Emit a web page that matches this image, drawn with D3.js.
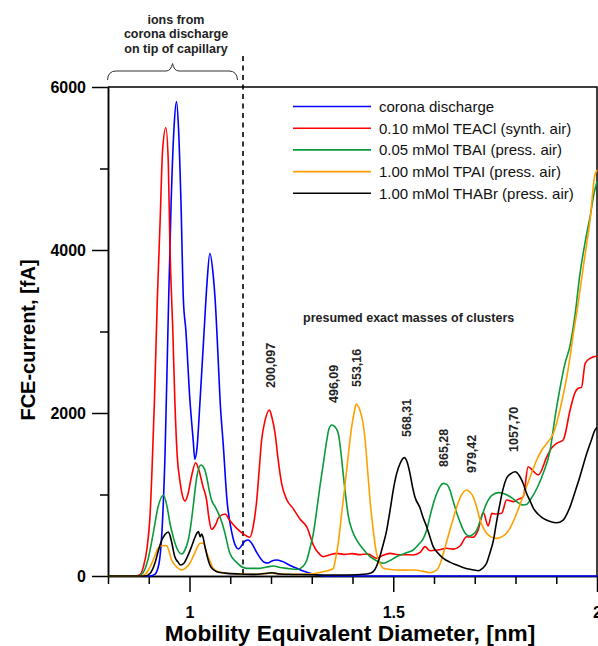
<!DOCTYPE html>
<html>
<head>
<meta charset="utf-8">
<script src="https://cdn.jsdelivr.net/npm/d3@7/dist/d3.min.js"></script>
<style>
  html, body { margin: 0; padding: 0; background: #fff; }
  svg { display: block; font-family: "Liberation Sans", Arial, sans-serif; }
</style>
</head>
<body>
<svg id="chart" width="598" height="646"></svg>
<script>
// ---------- DATA (diameter [nm], current [fA]) ----------
const seriesNames = [
  "corona discharge",
  "0.10 mMol TEACl (synth. air)",
  "0.05 mMol TBAI (press. air)",
  "1.00 mMol TPAI (press. air)",
  "1.00 mMol THABr (press. air)"
];
const seriesColors = ["#0000ff", "#ff0000", "#0a9a3c", "#ffa000", "#000000"];

const corona = [
  [0.800,0],[0.903,0],[0.915,20],[0.925,150],[0.933,600],[0.940,1500],[0.947,3000],
  [0.955,4600],[0.962,5500],[0.968,5820],[0.973,5500],[0.979,4600],[0.985,3390],
  [0.991,3018],[1.001,2160],[1.009,1670],[1.013,1432],[1.018,1550],[1.026,2160],
  [1.036,3018],[1.043,3600],[1.050,3960],[1.058,3700],[1.063,3387],[1.070,2700],
  [1.075,2160],[1.083,1600],[1.092,932],[1.104,530],[1.114,360],[1.120,331],
  [1.129,380],[1.136,430],[1.144,442],[1.153,400],[1.166,280],[1.183,170],[1.193,160],
  [1.202,185],[1.214,196],[1.227,180],[1.247,130],[1.263,94],[1.279,60],[1.296,35],
  [1.315,10],[1.333,0],[2.000,0]
];
const teacl = [
  [0.800,0],[0.866,0],[0.879,20],[0.887,115],[0.896,350],[0.903,728],[0.908,1300],
  [0.914,2160],[0.921,3387],[0.928,4368],[0.934,5227],[0.942,5500],[0.948,5067],
  [0.952,4040],[0.959,3018],[0.964,2160],[0.970,1464],[0.977,1150],[0.983,980],
  [0.989,920],[0.996,1000],[1.004,1200],[1.015,1390],[1.023,1300],[1.033,1100],
  [1.042,932],[1.048,700],[1.054,573],[1.063,620],[1.072,720],[1.087,761],[1.099,680],
  [1.116,585],[1.131,520],[1.148,475],[1.156,600],[1.165,932],[1.171,1300],[1.177,1669],
  [1.185,1900],[1.196,2037],[1.202,1950],[1.210,1751],[1.217,1450],[1.226,1137],
  [1.239,932],[1.254,830],[1.271,700],[1.288,600],[1.304,380],[1.315,290],[1.328,237],
  [1.345,260],[1.361,278],[1.382,265],[1.399,275],[1.418,262],[1.438,270],[1.459,217],
  [1.475,255],[1.492,278],[1.512,260],[1.529,262],[1.549,258],[1.566,290],[1.578,360],
  [1.590,310],[1.610,320],[1.631,340],[1.647,330],[1.664,368],[1.680,482],[1.696,475],
  [1.708,560],[1.721,777],[1.733,613],[1.742,769],[1.752,760],[1.766,769],[1.778,932],
  [1.795,912],[1.806,940],[1.819,973],[1.831,1341],[1.843,1290],[1.856,1239],
  [1.877,1464],[1.887,1560],[1.901,1628],[1.917,1669],[1.934,2037],[1.946,2250],
  [1.954,2303],[1.962,2315],[1.971,2610],[1.983,2671],[2.000,2700]
];
const tbai = [
  [0.800,0],[0.874,0],[0.886,40],[0.898,200],[0.911,524],[0.923,851],[0.936,990],
  [0.945,850],[0.952,647],[0.960,480],[0.969,340],[0.981,270],[0.989,320],[0.997,442],
  [1.004,650],[1.009,851],[1.018,1218],[1.028,1362],[1.036,1320],[1.042,1218],
  [1.048,1060],[1.054,932],[1.063,850],[1.071,769],[1.080,650],[1.087,524],[1.099,278],
  [1.116,164],[1.140,94],[1.173,94],[1.190,110],[1.206,123],[1.222,105],[1.239,94],
  [1.263,80],[1.279,120],[1.288,196],[1.296,350],[1.304,524],[1.312,800],[1.320,1096],
  [1.329,1400],[1.337,1669],[1.342,1800],[1.349,1853],[1.357,1830],[1.365,1751],
  [1.372,1500],[1.377,1260],[1.384,950],[1.390,728],[1.399,560],[1.410,442],[1.426,330],
  [1.443,237],[1.460,185],[1.476,156],[1.492,190],[1.508,237],[1.529,280],[1.549,319],
  [1.561,380],[1.574,462],[1.583,580],[1.590,728],[1.599,900],[1.607,1015],[1.615,1100],
  [1.623,1137],[1.632,1120],[1.639,1055],[1.647,920],[1.656,769],[1.664,660],[1.672,564],
  [1.687,491],[1.696,510],[1.705,564],[1.715,700],[1.729,892],[1.742,990],[1.758,1023],
  [1.772,1010],[1.787,973],[1.801,920],[1.819,871],[1.828,880],[1.836,932],[1.853,1080],
  [1.868,1260],[1.885,1546],[1.897,1950],[1.909,2300],[1.921,2600],[1.934,2830],
  [1.946,3200],[1.958,3700],[1.971,4100],[1.983,4408],[1.993,4700],[2.000,4840]
];
const tpai = [
  [0.800,0],[0.879,0],[0.891,20],[0.901,90],[0.911,196],[0.923,340],[0.932,372],
  [0.937,375],[0.944,372],[0.950,300],[0.956,196],[0.967,120],[0.981,74],[0.991,100],
  [1.001,156],[1.009,240],[1.018,340],[1.026,401],[1.034,401],[1.040,320],[1.046,237],
  [1.053,150],[1.058,94],[1.070,55],[1.091,33],[1.124,25],[1.161,22],[1.198,35],
  [1.222,25],[1.271,20],[1.308,30],[1.328,53],[1.345,75],[1.353,94],[1.358,200],
  [1.365,401],[1.373,750],[1.382,1137],[1.390,1500],[1.398,1832],[1.404,2000],
  [1.409,2110],[1.413,2090],[1.418,2037],[1.425,1900],[1.431,1669],[1.437,1300],
  [1.443,932],[1.450,600],[1.459,278],[1.467,160],[1.476,94],[1.492,80],[1.508,74],
  [1.529,72],[1.549,74],[1.571,60],[1.590,41],[1.607,74],[1.615,150],[1.623,278],
  [1.631,420],[1.639,564],[1.647,700],[1.656,851],[1.666,980],[1.680,1055],[1.688,1030],
  [1.696,973],[1.705,840],[1.713,687],[1.721,590],[1.729,524],[1.740,480],[1.754,462],
  [1.766,480],[1.778,524],[1.791,630],[1.803,769],[1.815,930],[1.827,1096],[1.840,1270],
  [1.852,1423],[1.864,1540],[1.877,1628],[1.893,1751],[1.909,2037],[1.926,2445],
  [1.934,2691],[1.942,2978],[1.951,3250],[1.958,3500],[1.971,3950],[1.983,4368],
  [1.994,4900],[2.000,4982]
];
const thabr = [
  [0.800,0],[0.891,0],[0.903,30],[0.915,156],[0.923,300],[0.932,442],[0.940,510],
  [0.948,540],[0.952,500],[0.956,420],[0.964,237],[0.972,170],[0.978,135],[0.987,160],
  [0.993,217],[1.005,360],[1.013,470],[1.018,524],[1.022,544],[1.026,482],[1.030,515],
  [1.033,480],[1.038,360],[1.044,230],[1.050,135],[1.058,80],[1.067,53],[1.087,35],
  [1.124,25],[1.161,20],[1.185,30],[1.202,40],[1.222,25],[1.271,18],[1.345,12],
  [1.386,12],[1.435,25],[1.443,35],[1.451,53],[1.459,120],[1.467,237],[1.475,380],
  [1.484,564],[1.492,800],[1.500,1055],[1.508,1250],[1.517,1383],[1.527,1452],
  [1.534,1400],[1.541,1260],[1.547,1100],[1.553,973],[1.566,831],[1.573,720],
  [1.582,605],[1.590,480],[1.598,360],[1.610,280],[1.623,217],[1.639,170],[1.656,135],
  [1.671,105],[1.688,82],[1.709,65],[1.718,90],[1.729,156],[1.737,280],[1.746,442],
  [1.753,650],[1.762,892],[1.769,1060],[1.778,1199],[1.787,1250],[1.799,1280],
  [1.811,1218],[1.820,1120],[1.827,1015],[1.836,920],[1.844,831],[1.855,760],
  [1.868,708],[1.885,670],[1.901,654],[1.917,687],[1.926,760],[1.934,851],[1.946,1030],
  [1.958,1218],[1.975,1506],[1.985,1650],[1.995,1791],[2.000,1820]
];
const seriesData = [corona, teacl, tbai, tpai, thabr];

const yMajorTicks = [0, 2000, 4000, 6000];
const yMinorTicks = [1000, 3000, 5000];
const xMajorTicks = [1, 1.5, 2];
const xMinorTicks = [0.8, 0.9, 1.1, 1.2, 1.3, 1.4, 1.6, 1.7, 1.8, 1.9];
const massLabels = ["200,097", "496,09", "553,16", "568,31", "865,28", "979,42", "1057,70"];
const braceLines = ["ions from", "corona discharge", "on tip of capillary"];

// ---------- LAYOUT ----------
const svg = d3.select("#chart");
const L = 108, R = 597, T = 87, B = 576;
const x = d3.scaleLinear().domain([0.8, 2.0]).range([L, R]);
const y = d3.scaleLinear().domain([0, 6000]).range([B, T]);

// frame (top and right)
svg.append("path")
  .attr("d", `M${L},${T}H${R}V${B}`)
  .attr("fill", "none").attr("stroke", "#000").attr("stroke-width", 1.5);

// y axis
const yMaj = svg.append("g").attr("transform", `translate(${L},0)`)
  .call(d3.axisLeft(y).tickValues(yMajorTicks).tickSize(16).tickSizeOuter(0).tickPadding(6).tickFormat(d3.format("d")));
const yMin = svg.append("g").attr("transform", `translate(${L},0)`)
  .call(d3.axisLeft(y).tickValues(yMinorTicks).tickSize(8).tickSizeOuter(0).tickFormat(""));
// x axis
const xMaj = svg.append("g").attr("transform", `translate(0,${B})`)
  .call(d3.axisBottom(x).tickValues(xMajorTicks).tickSize(16).tickSizeOuter(0).tickPadding(15).tickFormat(d => String(d)));
const xMin = svg.append("g").attr("transform", `translate(0,${B})`)
  .call(d3.axisBottom(x).tickValues(xMinorTicks).tickSize(8).tickSizeOuter(0).tickFormat(""));

[yMaj, yMin, xMaj, xMin].forEach(g => {
  g.selectAll("path.domain").attr("stroke", "#000").attr("stroke-width", 1.5);
  g.selectAll(".tick line").attr("stroke", "#000").attr("stroke-width", 1.5);
  g.selectAll("text").attr("fill", "#000")
    .style("font-family", '"Liberation Sans", Arial, sans-serif')
    .style("font-size", "16px").style("font-weight", "bold");
});

// dashed separator
svg.append("line")
  .attr("x1", x(1.1313)).attr("x2", x(1.1313))
  .attr("y1", 56).attr("y2", B)
  .attr("stroke", "#000").attr("stroke-width", 1.6).attr("stroke-dasharray", "5,4.5");

// lines
const line = d3.line().x(d => x(d[0])).y(d => y(d[1])).curve(d3.curveMonotoneX);
seriesData.forEach((data, i) => {
  svg.append("path").datum(data)
    .attr("d", line)
    .attr("fill", "none")
    .attr("stroke", seriesColors[i])
    .attr("stroke-width", 1.6)
    .attr("stroke-linejoin", "round");
});

// legend
const lg = svg.append("g");
seriesNames.forEach((name, i) => {
  const yy = 106.5 + i * 21.7;
  lg.append("line").attr("x1", 293).attr("x2", 371).attr("y1", yy).attr("y2", yy)
    .attr("stroke", seriesColors[i]).attr("stroke-width", 1.6);
  lg.append("text").attr("x", 379).attr("y", yy + 5.3)
    .style("font-size", "15px").attr("fill", "#111").text(name);
});

// axis titles
svg.append("text")
  .attr("x", 350).attr("y", 641)
  .attr("text-anchor", "middle")
  .style("font-size", "22.7px").style("font-weight", "bold")
  .text("Mobility Equivalent Diameter, [nm]");
svg.append("text")
  .attr("transform", "translate(35,340) rotate(-90)")
  .attr("text-anchor", "middle")
  .style("font-size", "20px").style("font-weight", "bold")
  .text("FCE-current, [fA]");

// brace annotation
svg.append("path")
  .attr("d", "M107.5,80 Q108,71 116,71 L166,71 Q171,71 172.5,63.5 Q174,71 179,71 L229,71 Q237,71 237.5,80")
  .attr("fill", "none").attr("stroke", "#333").attr("stroke-width", 1);
braceLines.forEach((t, i) => {
  svg.append("text").attr("x", 176).attr("y", 23.5 + i * 14.6)
    .attr("text-anchor", "middle")
    .style("font-size", "12.5px").style("font-weight", "bold").attr("fill", "#222")
    .text(t);
});

// cluster mass annotations
svg.append("text").attr("x", 303).attr("y", 322)
  .style("font-size", "12.5px").style("font-weight", "bold").attr("fill", "#222")
  .text("presumed exact masses of clusters");
const labelPos = [[274.5, 388], [337.5, 403], [360.5, 387], [410.5, 437], [447.5, 467], [475.5, 473], [517.5, 452]];
massLabels.forEach((t, i) => {
  svg.append("text")
    .attr("transform", `translate(${labelPos[i][0]},${labelPos[i][1]}) rotate(-90)`)
    .style("font-size", "12.5px").style("font-weight", "bold").attr("fill", "#222")
    .text(t);
});
</script>
</body>
</html>
